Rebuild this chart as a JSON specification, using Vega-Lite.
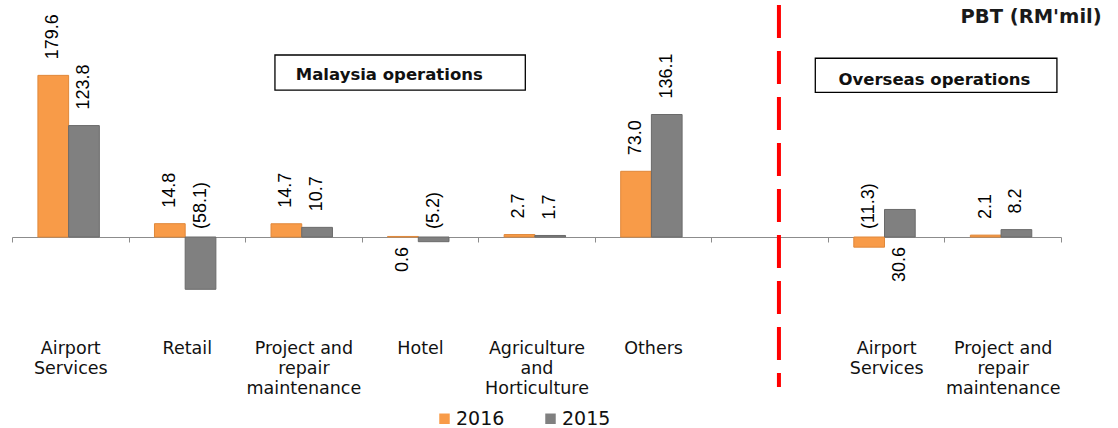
{
  "$schema": "https://vega.github.io/schema/vega-lite/v6.json",
  "width": 1049,
  "height": 325,
  "autosize": {"type": "none"},
  "padding": {"left": 12, "top": 5, "right": 57, "bottom": 98},
  "background": "white",
  "config": {"view": {"stroke": null}, "font": "DejaVu Sans"},
  "layer": [
    {
      "data": {
        "values": [
          {"cat": "Airport|Services", "year": "2016", "value": 179.6, "label": "179.6"},
          {"cat": "Airport|Services", "year": "2015", "value": 123.8, "label": "123.8"},
          {"cat": "Retail", "year": "2016", "value": 14.8, "label": "14.8"},
          {"cat": "Retail", "year": "2015", "value": -58.1, "label": "(58.1)"},
          {"cat": "Project and|repair|maintenance", "year": "2016", "value": 14.7, "label": "14.7"},
          {"cat": "Project and|repair|maintenance", "year": "2015", "value": 10.7, "label": "10.7"},
          {"cat": "Hotel", "year": "2016", "value": 0.6, "label": "0.6"},
          {"cat": "Hotel", "year": "2015", "value": -5.2, "label": "(5.2)"},
          {"cat": "Agriculture|and|Horticulture", "year": "2016", "value": 2.7, "label": "2.7"},
          {"cat": "Agriculture|and|Horticulture", "year": "2015", "value": 1.7, "label": "1.7"},
          {"cat": "Others", "year": "2016", "value": 73.0, "label": "73.0"},
          {"cat": "Others", "year": "2015", "value": 136.1, "label": "136.1"},
          {"cat": "Overseas:Airport|Services", "year": "2016", "value": -11.3, "label": "(11.3)"},
          {"cat": "Overseas:Airport|Services", "year": "2015", "value": 30.6, "label": "30.6"},
          {"cat": "Overseas:Project and|repair|maintenance", "year": "2016", "value": 2.1, "label": "2.1"},
          {"cat": "Overseas:Project and|repair|maintenance", "year": "2015", "value": 8.2, "label": "8.2"}
        ]
      },
      "encoding": {
        "x": {
          "field": "cat",
          "type": "nominal",
          "scale": {
            "domain": ["Airport|Services", "Retail", "Project and|repair|maintenance", "Hotel", "Agriculture|and|Horticulture", "Others", "gap", "Overseas:Airport|Services", "Overseas:Project and|repair|maintenance"],
            "paddingInner": 0,
            "paddingOuter": 0
          },
          "axis": {
            "title": null,
            "orient": "bottom",
            "offset": -93,
            "domain": true,
            "domainColor": "#8c8c8c",
            "domainWidth": 1,
            "ticks": true,
            "tickBand": "extent",
            "tickSize": 5,
            "tickColor": "#8c8c8c",
            "grid": false,
            "labelAngle": 0,
            "labelPadding": 97,
            "labelFont": "DejaVu Sans",
            "labelFontSize": 17.5,
            "labelColor": "#111111",
            "labelLineHeight": 20,
            "labelBaseline": "top",
            "labelExpr": "isString(datum.value) && datum.value != 'gap' ? split(replace(datum.value, 'Overseas:', ''), '|') : ''"
          }
        },
        "xOffset": {
          "field": "year",
          "type": "nominal",
          "scale": {"domain": ["2016", "2015"], "paddingInner": 0, "paddingOuter": 0.898, "align": 0.47}
        }
      },
      "layer": [
        {
          "mark": {"type": "bar", "strokeWidth": 1},
          "encoding": {
            "y": {
              "field": "value",
              "type": "quantitative",
              "scale": {"domain": [-103.33, 257.78], "nice": false, "zero": false},
              "axis": null
            },
            "y2": {"datum": 0},
            "color": {
              "field": "year",
              "type": "nominal",
              "scale": {"domain": ["2016", "2015"], "range": ["#F89B48", "#808080"]},
              "legend": {
                "title": null,
                "orient": "none",
                "direction": "horizontal",
                "legendX": 423,
                "legendY": 404,
                "padding": 0,
                "symbolType": "square",
                "symbolSize": 110,
                "symbolStrokeWidth": 0,
                "labelFont": "DejaVu Sans",
                "labelFontSize": 19,
                "labelColor": "#111111",
                "labelOffset": 2,
                "columnPadding": 36
              }
            },
            "stroke": {
              "field": "year",
              "type": "nominal",
              "scale": {"domain": ["2016", "2015"], "range": ["#E0883A", "#6A6A6A"]},
              "legend": null
            }
          }
        },
        {
          "transform": [{"filter": "datum.value > 0 && datum.label != '0.6' && datum.label != '30.6'"}],
          "mark": {"type": "text", "angle": 270, "align": "left", "baseline": "middle", "dx": 16, "font": "Liberation Sans", "fontSize": 18, "color": "#000000"},
          "encoding": {
            "y": {"field": "value", "type": "quantitative", "axis": null},
            "text": {"field": "label"}
          }
        },
        {
          "transform": [{"filter": "datum.value < 0"}],
          "mark": {"type": "text", "angle": 270, "align": "left", "baseline": "middle", "dx": 8, "font": "Liberation Sans", "fontSize": 18, "color": "#000000"},
          "encoding": {
            "y": {"datum": 0, "type": "quantitative", "axis": null},
            "text": {"field": "label"}
          }
        },
        {
          "transform": [{"filter": "datum.label == '0.6' || datum.label == '30.6'"}],
          "mark": {"type": "text", "angle": 270, "align": "right", "baseline": "middle", "dx": -10, "font": "Liberation Sans", "fontSize": 18, "color": "#000000"},
          "encoding": {
            "y": {"datum": 0, "type": "quantitative", "axis": null},
            "text": {"field": "label"}
          }
        }
      ]
    },
    {
      "data": {"values": [{}]},
      "layer": [
        {
          "mark": {"type": "rect", "fill": "white", "stroke": "#000000", "strokeWidth": 1.3},
          "encoding": {
            "x": {"datum": 2.256, "type": "quantitative", "scale": {"domain": [0, 9], "nice": false, "zero": false}, "axis": null},
            "x2": {"datum": 4.404},
            "y": {"datum": 202.2, "type": "quantitative", "axis": null},
            "y2": {"datum": 163.3}
          }
        },
        {
          "mark": {"type": "text", "text": "Malaysia operations", "font": "DejaVu Sans", "fontWeight": "bold", "fontSize": 16.5, "align": "center", "baseline": "alphabetic", "color": "#111111"},
          "encoding": {
            "x": {"datum": 3.237, "type": "quantitative"},
            "y": {"datum": 174.4, "type": "quantitative"}
          }
        },
        {
          "mark": {"type": "rect", "fill": "white", "stroke": "#000000", "strokeWidth": 1.3},
          "encoding": {
            "x": {"datum": 6.892, "type": "quantitative"},
            "x2": {"datum": 8.965},
            "y": {"datum": 198.6, "type": "quantitative"},
            "y2": {"datum": 160.8}
          }
        },
        {
          "mark": {"type": "text", "text": "Overseas operations", "font": "DejaVu Sans", "fontWeight": "bold", "fontSize": 16.5, "align": "center", "baseline": "alphabetic", "color": "#111111"},
          "encoding": {
            "x": {"datum": 7.914, "type": "quantitative"},
            "y": {"datum": 168.9, "type": "quantitative"}
          }
        },
        {
          "mark": {"type": "text", "text": "PBT (RM'mil)", "font": "DejaVu Sans", "fontWeight": "bold", "fontSize": 19.5, "align": "right", "baseline": "alphabetic", "color": "#1a1a1a"},
          "encoding": {
            "x": {"datum": 9.349, "type": "quantitative"},
            "y": {"datum": 237.4, "type": "quantitative"}
          }
        },
        {
          "mark": {"type": "rule", "color": "#FF0000", "strokeWidth": 4, "strokeDash": [33, 13]},
          "encoding": {
            "x": {"datum": 6.58, "type": "quantitative"},
            "y": {"datum": 257.8, "type": "quantitative"},
            "y2": {"datum": -166.7}
          }
        }
      ]
    }
  ],
  "resolve": {"scale": {"x": "independent"}}
}
